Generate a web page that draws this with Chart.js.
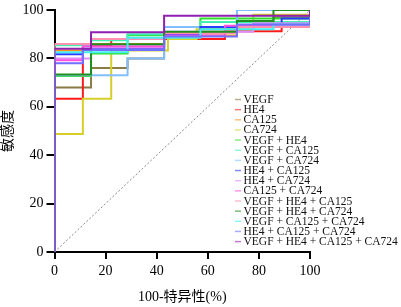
<!DOCTYPE html>
<html>
<head>
<meta charset="utf-8">
<script src="https://cdn.jsdelivr.net/npm/chart.js@4"></script>
<style>
  html, body { margin: 0; padding: 0; background: #fff; }
  #wrap { width: 401px; height: 307px; }
</style>
</head>
<body>
<div id="wrap"><canvas id="roc"></canvas></div>
<script>
// 图例名称
const names = [
    'VEGF', 'HE4', 'CA125', 'CA724',
    'VEGF + HE4', 'VEGF + CA125', 'VEGF + CA724',
    'HE4 + CA125', 'HE4 + CA724', 'CA125 + CA724',
    'VEGF + HE4 + CA125', 'VEGF + HE4 + CA724', 'VEGF + CA125 + CA724',
    'HE4 + CA125 + CA724', 'VEGF + HE4 + CA125 + CA724'
];
const colors = [
    '#8B7B45', '#FF1A1A', '#FF9020', '#D6CF2A',
    '#2EE02E', '#40F0B0', '#80BFFF',
    '#2A3CFF', '#E08CF8', '#FF50E0',
    '#FF90B0', '#1F8F1F', '#40F0F0',
    '#7070FF', '#9020B0'
];

// [100-特异性, 敏感度] 阶梯点
const vegf      = [[0, 68], [14.3, 76], [28.6, 80], [42.9, 88], [57.1, 92], [71.4, 95], [85.7, 97]];
const he4       = [[0, 63.3], [11.1, 85.2], [22.2, 88], [66.7, 91.2], [88.9, 95]];
const ca125     = [[0, 83.3], [14.3, 86], [42.9, 89.5], [71.4, 93]];
const ca724     = [[0, 48.8], [11.1, 63.3], [22.2, 83.3], [44.4, 88], [55.6, 92], [77.8, 98]];
const vegfHe4   = [[0, 72.7], [14.3, 82], [28.6, 89.6], [57.1, 96.5]];
const vegfC125  = [[0, 85.4], [14.3, 87.5], [28.6, 90], [57.1, 95]];
const vegfC724  = [[0, 73], [28.6, 80], [42.9, 93], [71.4, 100]];
const he4C125   = [[0, 81.7], [11.1, 84], [42.9, 90], [57.1, 93], [88.9, 96.5]];
const he4C724   = [[0, 80], [14.3, 84.5], [42.9, 91], [77.8, 94.5]];
const c125C724  = [[0, 79.2], [11.1, 85], [42.9, 89.5], [66.7, 93.5]];
const vhC125    = [[0, 86], [14.3, 88], [42.9, 90.5], [71.4, 93]];
const vhC724    = [[0, 73.3], [14.3, 85.8], [42.9, 91], [71.4, 95.5], [85.7, 100]];
const vC125C724 = [[0, 82.5], [28.6, 88.5], [57.1, 92], [85.7, 94]];
const hC125C724 = [[0, 78], [11.1, 83.5], [42.9, 89], [71.4, 94]];
const allFour   = [[0, 84], [14.3, 90.8], [42.9, 97.6]];

const series = [vegf, he4, ca125, ca724, vegfHe4, vegfC125, vegfC724,
    he4C125, he4C724, c125C724, vhC125, vhC724, vC125C724, hC125C724, allFour];

const xTicks = [0, 20, 40, 60, 80, 100];
const yTicks = [0, 20, 40, 60, 80, 100];

const serif = '"Liberation Serif", "Times New Roman", serif';
const cjk = '"Liberation Serif", "Noto Sans CJK SC", serif';

function toPoints(steps) {
    const pts = [{ x: 0, y: 0 }];
    steps.forEach(s => pts.push({ x: s[0], y: s[1] }));
    pts.push({ x: 100, y: 100 });
    return pts;
}

const datasets = series.map((s, i) => ({
    label: names[i],
    data: toPoints(s),
    borderColor: colors[i],
    backgroundColor: colors[i],
    borderWidth: 2,
    stepped: true,
    pointRadius: 0,
    fill: false,
    order: -i
}));

// 参考线
datasets.push({
    label: 'ref',
    data: [{ x: 0, y: 0 }, { x: 100, y: 100 }],
    borderColor: '#888',
    borderWidth: 1,
    borderDash: [2, 2],
    pointRadius: 0,
    order: 100
});

const legendPlugin = {
    id: 'sideLegend',
    afterDraw(chart) {
        const ctx = chart.ctx;
        ctx.save();
        ctx.font = '11.5px ' + serif;
        ctx.textBaseline = 'middle';
        names.forEach((n, i) => {
            const y = 99.5 + i * 10.15;
            ctx.globalAlpha = 0.6;
            ctx.strokeStyle = colors[i];
            ctx.lineWidth = 1.5;
            ctx.beginPath();
            ctx.moveTo(235, y);
            ctx.lineTo(241, y);
            ctx.stroke();
            ctx.globalAlpha = 1;
            ctx.fillStyle = '#111';
            ctx.fillText(n, 243.5, y + 0.5);
        });
        ctx.restore();
    }
};

const axisStyle = (ticks, titleText, isX) => ({
    type: 'linear',
    min: 0,
    max: 100,
    afterBuildTicks: scale => { scale.ticks = ticks.map(v => ({ value: v })); },
    afterFit: scale => {
        if (isX) scale.height = 55;
        else scale.width = 54.5;
    },
    border: { display: true, color: '#000', width: 2 },
    grid: {
        drawOnChartArea: false,
        drawTicks: true,
        tickLength: isX ? 7 : 8,
        color: '#000',
        lineWidth: 2
    },
    ticks: {
        color: '#000',
        font: { family: serif, size: 14, lineHeight: 1 },
        padding: isX ? 5 : 3,
        maxRotation: 0
    },
    title: {
        display: true,
        text: titleText,
        color: '#000',
        font: { family: cjk, size: 14 },
        padding: isX ? { top: 0, bottom: 1 } : { top: 0, bottom: 0 }
    }
});

new Chart(document.getElementById('roc'), {
    type: 'line',
    data: { datasets: datasets },
    options: {
        responsive: true,
        maintainAspectRatio: false,
        animation: false,
        layout: { padding: { top: 4, right: 91, left: 0, bottom: 0 } },
        plugins: {
            legend: { display: false },
            tooltip: { enabled: false }
        },
        scales: {
            x: axisStyle(xTicks, '100-特异性(%)', true),
            y: axisStyle(yTicks, '敏感度', false)
        }
    },
    plugins: [legendPlugin]
});
</script>
</body>
</html>
